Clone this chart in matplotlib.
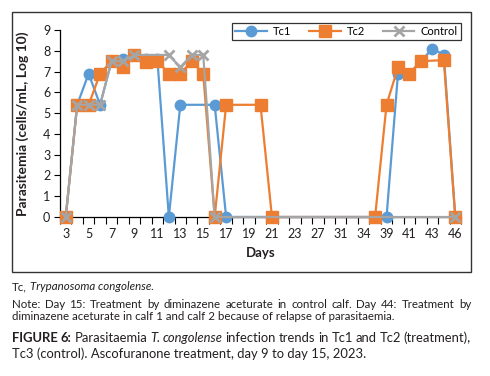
import numpy as np
import matplotlib
matplotlib.use("Agg")
import matplotlib.pyplot as plt
from matplotlib.patches import Rectangle

nan = np.nan

# categories on the x axis (only every other one is labelled)
days = [3, 4, 5, 6, 7, 8, 9, 10, 11, 12, 13, 14, 15, 16, 17, 18, 19, 20, 21, 22, 23,
        25, 27, 29, 31, 33, 34, 37, 39, 40, 41, 42, 43, 44, 46]

tc1 = [0, 5.4, 6.9, 5.4, 7.5, 7.6, 7.8, 7.6, 7.6, 0, 5.4, nan, nan, 5.4, 0,
       nan, nan, nan, nan, nan, nan, nan, nan, nan, nan, nan, nan, nan,
       0, 6.9, 6.9, 7.5, 8.1, 7.8, 0]
tc2 = [0, 5.4, 5.4, 6.9, 7.5, 7.2, 7.8, 7.45, 7.5, 6.9, 6.9, 7.5, 6.9, 0, 5.4,
       nan, nan, 5.4, 0, nan, nan, nan, nan, nan, nan, nan, nan,
       0, 5.4, 7.2, 6.9, 7.5, nan, 7.55, 0]
control = [0, 5.4, 5.4, 5.4, 7.5, 7.5, 7.8, nan, nan, 7.8, 7.2, 7.8, 7.8, 0,
           nan, nan, nan, nan, nan, nan, nan, nan, nan, nan, nan, nan, nan,
           nan, nan, nan, nan, nan, nan, nan, 0]

W, H = 490, 376
FONT = ["Lato", "DejaVu Sans"]
TXT = "#231f20"
plt.rcParams["font.family"] = FONT

fig = plt.figure(figsize=(W / 100, H / 100), dpi=100)
ax = fig.add_axes([60 / W, 1 - 217 / H, (461 - 60) / W, (217 - 30) / H])

x = np.arange(len(days))
series = [
    ("Tc1", tc1, "#5b9bd5", "o", 7.5),
    ("Tc2", tc2, "#ed7d31", "s", 8.5),
    ("Control", control, "#a5a5a5", "x", 7),
]
for i, (name, vals, col, mk, ms) in enumerate(series):
    v = np.array(vals, dtype=float)
    m = ~np.isnan(v)
    ax.plot(x[m], v[m], color=col, lw=1.6, marker=mk, ms=ms, mew=2 if mk == "x" else 1,
            mec=col, mfc=col, label=name, zorder=3 + i, clip_on=False)

ax.set_xlim(-0.5, len(days) - 0.5)
ax.set_ylim(0, 9)
ax.set_yticks(range(10))
ax.set_xticks(np.arange(-0.5, len(days), 1.0))
ax.set_xticklabels([])
ax.set_xticks(x[::2], minor=True)
ax.set_xticklabels([str(d) for d in days[::2]], minor=True)
ax.tick_params(axis="x", which="major", length=5, width=0.8, direction="out")
ax.tick_params(axis="x", which="minor", length=0, labelsize=9, pad=8, colors=TXT)
ax.tick_params(axis="y", length=4, width=0.8, labelsize=9, pad=3, colors=TXT)
ax.tick_params(axis="both", color="black")
for s in ["top", "right"]:
    ax.spines[s].set_visible(False)
for s in ["left", "bottom"]:
    ax.spines[s].set_linewidth(0.9)

ax.set_xlabel("Days", fontsize=9.5, fontweight="bold", color=TXT, labelpad=5)
fig.text(23 / W, 1 - 124 / H, "Parasitemia (cells/mL, Log 10)", rotation=90,
         fontsize=10, fontweight="bold", color=TXT, ha="center", va="center")

leg = ax.legend(loc="upper right", bbox_to_anchor=(467 / W, 1 - 17 / H),
                bbox_transform=fig.transFigure, ncol=3, fontsize=8, frameon=True,
                fancybox=False, edgecolor="black", handlelength=2.8, columnspacing=1.6,
                borderpad=0.3, handletextpad=0.6, markerscale=1.0)
leg.get_frame().set_linewidth(0.9)

# outer chart frame
fig.add_artist(Rectangle((12 / W, 1 - 272 / H), (471 - 12) / W, (272 - 12) / H,
                         transform=fig.transFigure, fill=False, ec="#333333", lw=1.0))

# text blocks below the chart
X0, X1 = 12, 471
r = fig.canvas.get_renderer()


def width(s, size, wt="normal", st="normal"):
    t = fig.text(0, 0, s, fontsize=size, fontweight=wt, fontstyle=st)
    w = t.get_window_extent(r).width
    t.remove()
    return w


def draw_line(tokens, y, size, justify=False):
    # y is the baseline in pixels from the top
    texts = [fig.text(0, 1 - y / H, w, fontsize=size, fontweight=wt, fontstyle=st,
                      color=TXT, va="baseline") for w, wt, st in tokens]
    ws = [t.get_window_extent(r).width for t in texts]
    sp = width("a a", size) - width("aa", size)
    if justify and len(texts) > 1:
        gap = (X1 - X0 - sum(ws)) / (len(texts) - 1)
    else:
        gap = sp
    xx = X0
    for t, w in zip(texts, ws):
        t.set_x(xx / W)
        xx += w + gap


def toks(s, wt="normal", st="normal"):
    return [(w, wt, st) for w in s.split()]


note2 = "diminazene aceturate in calf 1 and calf 2 because of relapse of parasitaemia."
cap2 = "Tc3 (control). Ascofuranone treatment, day 9 to day 15, 2023."
# font sizes chosen so the last (unjustified) line has the reference width
note_size = 10 * 381 / width(note2, 10)
cap_size = 10 * 355 / width(cap2, 10)

draw_line([("Tc,", "normal", "normal"), ("Trypanosoma congolense.", "normal", "italic")],
          290, note_size)
draw_line(toks("Note: Day 15: Treatment by diminazene aceturate in control calf. "
               "Day 44: Treatment by"), 307.5, note_size, justify=True)
fig.text(X0 / W, 1 - 320.5 / H, note2, fontsize=note_size, color=TXT, va="baseline")
draw_line(toks("FIGURE 6:", wt="bold") + toks("Parasitaemia") + toks("T. congolense", st="italic")
          + toks("infection trends in Tc1 and Tc2 (treatment),"), 342, cap_size, justify=True)
fig.text(X0 / W, 1 - 358 / H, cap2, fontsize=cap_size, color=TXT, va="baseline")

fig.savefig("out.png", dpi=100)
